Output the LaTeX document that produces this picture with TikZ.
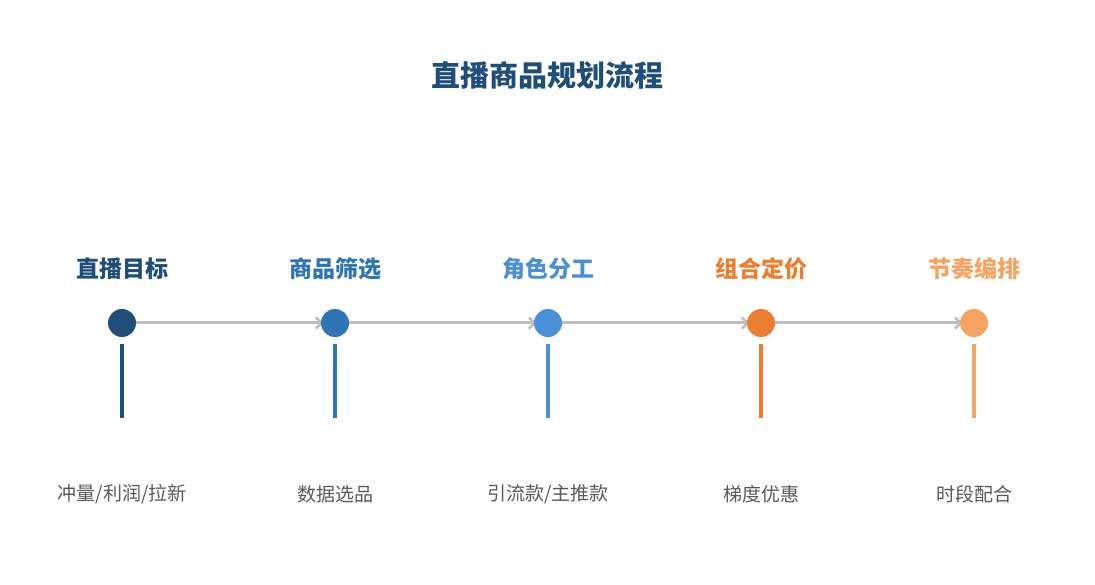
\documentclass[tikz,border=0pt]{standalone}
\usepackage{fontspec}
\setmainfont{Noto Sans CJK SC}
\newfontfamily\cjk{Noto Sans CJK SC}
\usetikzlibrary{arrows.meta,backgrounds}
\definecolor{cA}{HTML}{1F4E79}
\definecolor{cB}{HTML}{2E75B6}
\definecolor{cC}{HTML}{4A90D9}
\definecolor{cD}{HTML}{ED7D31}
\definecolor{cE}{HTML}{F4A460}
\definecolor{lineg}{HTML}{BFBFBF}
\definecolor{txtg}{HTML}{595959}
\tikzset{
  dot/.style={circle,fill=#1,minimum size=28pt,inner sep=0pt},
  stagelabel/.style={text=#1,font=\cjk\bfseries\fontsize{23}{26}\selectfont,inner sep=0pt},
  desc/.style={text=txtg,font=\cjk\fontsize{19}{22}\selectfont,inner sep=0pt},
  flow/.style={draw=lineg,line width=3pt,shorten >=-3pt,-{Straight Barb[length=6pt,width=11pt,line width=2.6pt]}},
  stem/.style={draw=#1,line width=3.5pt}
}
\begin{document}
\begin{tikzpicture}[x=1pt,y=-1pt]
\useasboundingbox (0,0) rectangle (1095,585);
\node[text=cA,font=\cjk\bfseries\fontsize{29}{33}\selectfont,inner sep=0pt] (title) at (547.5,75) {直播商品规划流程};
\foreach \n/\x/\c/\t/\d in {a/122/cA/直播目标/{冲量/利润/拉新}, b/335/cB/商品筛选/数据选品, c/548/cC/角色分工/{引流款/主推款}, d/761/cD/组合定价/梯度优惠, e/974/cE/节奏编排/时段配合}{
  \node[dot=\c] (\n) at (\x,323) {};
  \node[stagelabel=\c] (\n l) at (\x,269) {\t};
  \coordinate (\n s) at (\x,344);
  \coordinate (\n t) at (\x,418);
  \draw[stem=\c] (\n s) -- (\n t);
  \node[desc] (\n d) at (\x,494) {\d};
}
\begin{pgfonlayer}{background}
\draw[flow] (a) -- (b.west);
\draw[flow] (b) -- (c.west);
\draw[flow] (c) -- (d.west);
\draw[flow] (d) -- (e.west);
\end{pgfonlayer}
\end{tikzpicture}
\end{document}
